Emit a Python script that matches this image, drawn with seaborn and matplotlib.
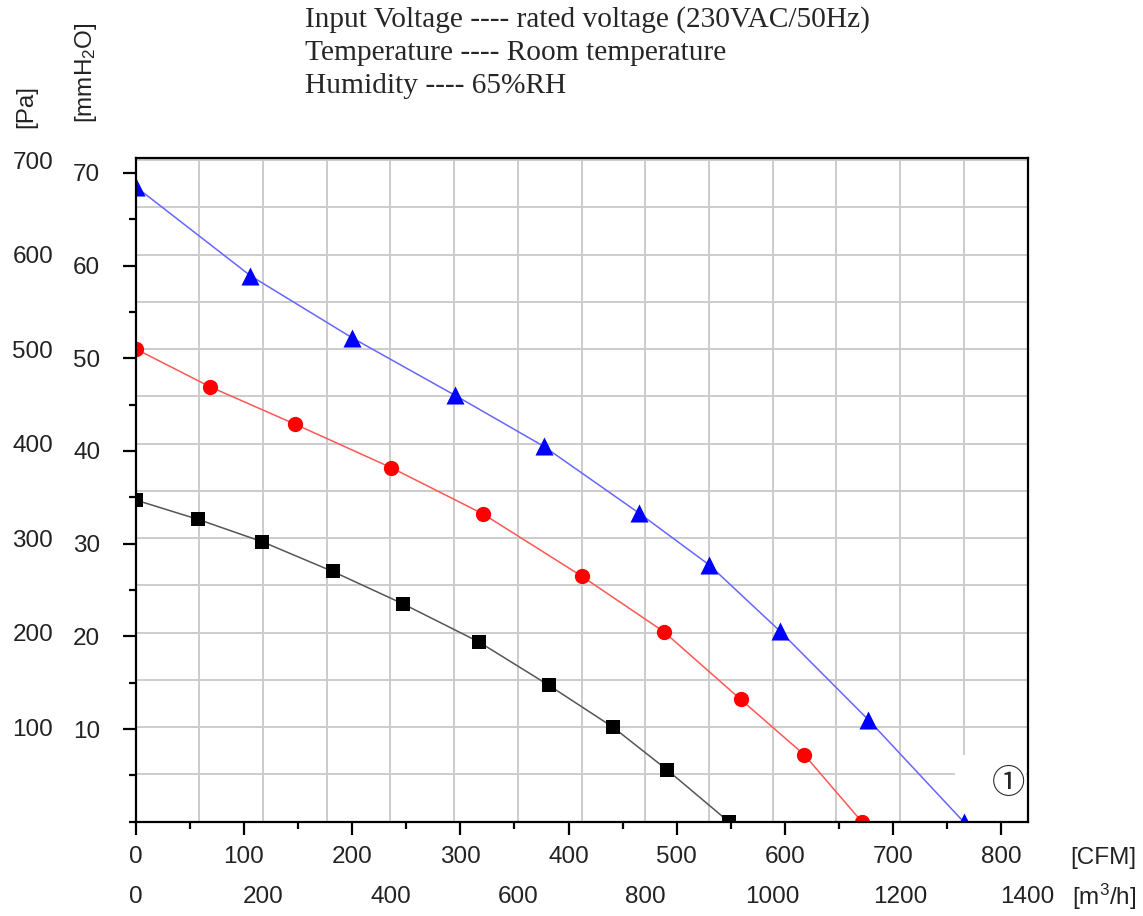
import numpy as np
import pandas as pd
import seaborn as sns
import matplotlib
matplotlib.use("Agg")
import matplotlib.pyplot as plt
from matplotlib.ticker import MultipleLocator, FixedLocator

# ---- data (CFM, mmH2O) ----
cfm_black = [0, 58, 117, 182, 247, 317, 382, 441, 491, 548]
mm_black = [34.7, 32.6, 30.2, 27.0, 23.5, 19.4, 14.7, 10.2, 5.6, 0.0]
cfm_red = [0, 69, 147, 236, 321, 412, 488, 559, 618, 671]
mm_red = [51.0, 46.9, 42.9, 38.2, 33.2, 26.5, 20.5, 13.2, 7.2, 0.0]
cfm_blue = [0, 106, 200, 295, 377, 465, 530, 595, 677, 765]
mm_blue = [68.5, 58.9, 52.2, 46.0, 40.5, 33.3, 27.7, 20.6, 11.0, 0.0]

cfm_ticks = [0, 100, 200, 300, 400, 500, 600, 700, 800]
m3h_ticks = [0, 200, 400, 600, 800, 1000, 1200, 1400]
mm_ticks = [10, 20, 30, 40, 50, 60, 70]
pa_ticks = [100, 200, 300, 400, 500, 600, 700]
m3h_grid = list(range(100, 1400, 100))
pa_grid = list(range(50, 701, 50))

title_lines = ["Input Voltage ---- rated voltage (230VAC/50Hz)",
               "Temperature ---- Room temperature",
               "Humidity ---- 65%RH"]

M3H_PER_CFM = 1.69901
PA_PER_MM = 9.80665

sns.set_style("white")
plt.rcParams["font.family"] = ["Liberation Sans", "DejaVu Sans"]
plt.rcParams["mathtext.default"] = "regular"

FS = 17.5
TC = "#222222"

fig = plt.figure(figsize=(11.43, 9.16), dpi=100)
W, H = 1143, 916
x0, x1, ytop, ybot = 135.7, 1027.7, 158, 821.7
ax = fig.add_axes([x0 / W, 1 - ybot / H, (x1 - x0) / W, (ybot - ytop) / H])

xmax = 1400 / M3H_PER_CFM + 0.3
ymax = (ybot - ytop) / 9.27
ax.set_xlim(0, xmax)
ax.set_ylim(0, ymax)

# grid
for g in m3h_grid:
    xc = g / M3H_PER_CFM
    ax.plot([xc, xc], [0, ymax], color="#cccccc", lw=1.4, zorder=0.5)
for g in pa_grid:
    ax.axhline(g / PA_PER_MM, color="#cccccc", lw=1.4, zorder=0.5)

# white box behind the circled label (above grid, below curves)
ax.add_patch(plt.Rectangle((955 / W, 1 - 821 / H), (1026 - 955) / W, (821 - 755) / H,
                           transform=fig.transFigure, facecolor="white", edgecolor="none",
                           zorder=1))

series = [
    ("black", cfm_black, mm_black, "s", "#000000", "#555555", 10),
    ("red", cfm_red, mm_red, "o", "#ff0000", "#ff5555", 11),
    ("blue", cfm_blue, mm_blue, "^", "#0000ff", "#6666ff", 13),
]
for name, xs, ys, mk, mc, lc, ms in series:
    df = pd.DataFrame({"cfm": xs, "mm": ys})
    sns.lineplot(data=df, x="cfm", y="mm", ax=ax, color=lc, lw=1.1, sort=False, zorder=2)
    sns.scatterplot(data=df, x="cfm", y="mm", ax=ax, marker=mk, color=mc, s=ms ** 2,
                    linewidth=0, zorder=3)

ax.set_xlabel("")
ax.set_ylabel("")

for sp in ax.spines.values():
    sp.set_linewidth(1.6)
    sp.set_color("black")
    sp.set_zorder(5)

ax.xaxis.set_major_locator(FixedLocator(cfm_ticks))
ax.xaxis.set_minor_locator(MultipleLocator(50))
ax.yaxis.set_major_locator(FixedLocator(mm_ticks))
ax.yaxis.set_minor_locator(MultipleLocator(5))
ax.set_yticklabels([str(t) for t in mm_ticks])
ax.set_xticklabels([str(t) for t in cfm_ticks])
ax.tick_params(axis="both", which="major", length=9.5, width=1.6, labelsize=FS,
               direction="out", color="black", labelcolor=TC)
ax.tick_params(axis="both", which="minor", length=5, width=1.6, direction="out", color="black")
ax.tick_params(axis="y", which="major", pad=16)
ax.tick_params(axis="x", which="major", pad=8)
ax.tick_params(left=True, bottom=True, which="both")

# secondary axes: Pa and m3/h
secy = ax.secondary_yaxis((53 - x0) / (x1 - x0),
                          functions=(lambda v: v * PA_PER_MM, lambda v: v / PA_PER_MM))
secy.yaxis.set_major_locator(FixedLocator(pa_ticks))
secy.yaxis.set_minor_locator(FixedLocator([]))
secy.tick_params(length=0, pad=0, labelsize=FS, labelcolor=TC)
secy.spines["left"].set_visible(False)

secx = ax.secondary_xaxis(-(886 - ybot) / (ybot - ytop),
                          functions=(lambda v: v * M3H_PER_CFM, lambda v: v / M3H_PER_CFM))
secx.xaxis.set_major_locator(FixedLocator(m3h_ticks))
secx.xaxis.set_minor_locator(FixedLocator([]))
secx.tick_params(length=0, pad=0, labelsize=FS, labelcolor=TC)
secx.spines["bottom"].set_visible(False)

# unit labels
fig.text(1136 / W, 1 - 858 / H, "[CFM]", ha="right", va="center", fontsize=FS, color=TC)
fig.text(1136 / W, 1 - 897 / H, "[m$^3$/h]", ha="right", va="center", fontsize=FS, color=TC)
fig.text(26 / W, 1 - 107 / H, "[Pa]", ha="center", va="center", rotation=90, fontsize=FS, color=TC)
fig.text(86 / W, 1 - 73 / H, "[mmH$_2$O]", ha="center", va="center", rotation=90, fontsize=FS, color=TC)

# header
for i, line in enumerate(title_lines):
    fig.text(305 / W, 1 - (20 + 33 * i) / H, line, ha="left", va="center",
             fontsize=21.2, family=["Liberation Serif", "DejaVu Serif"])

# circled label
fig.text(1009 / W, 1 - 784 / H, "\u2460", ha="center", va="center", fontsize=24,
         family=["DejaVu Serif", "Noto Sans CJK SC", "DejaVu Sans"], zorder=6)

fig.savefig("out.png", dpi=100)
